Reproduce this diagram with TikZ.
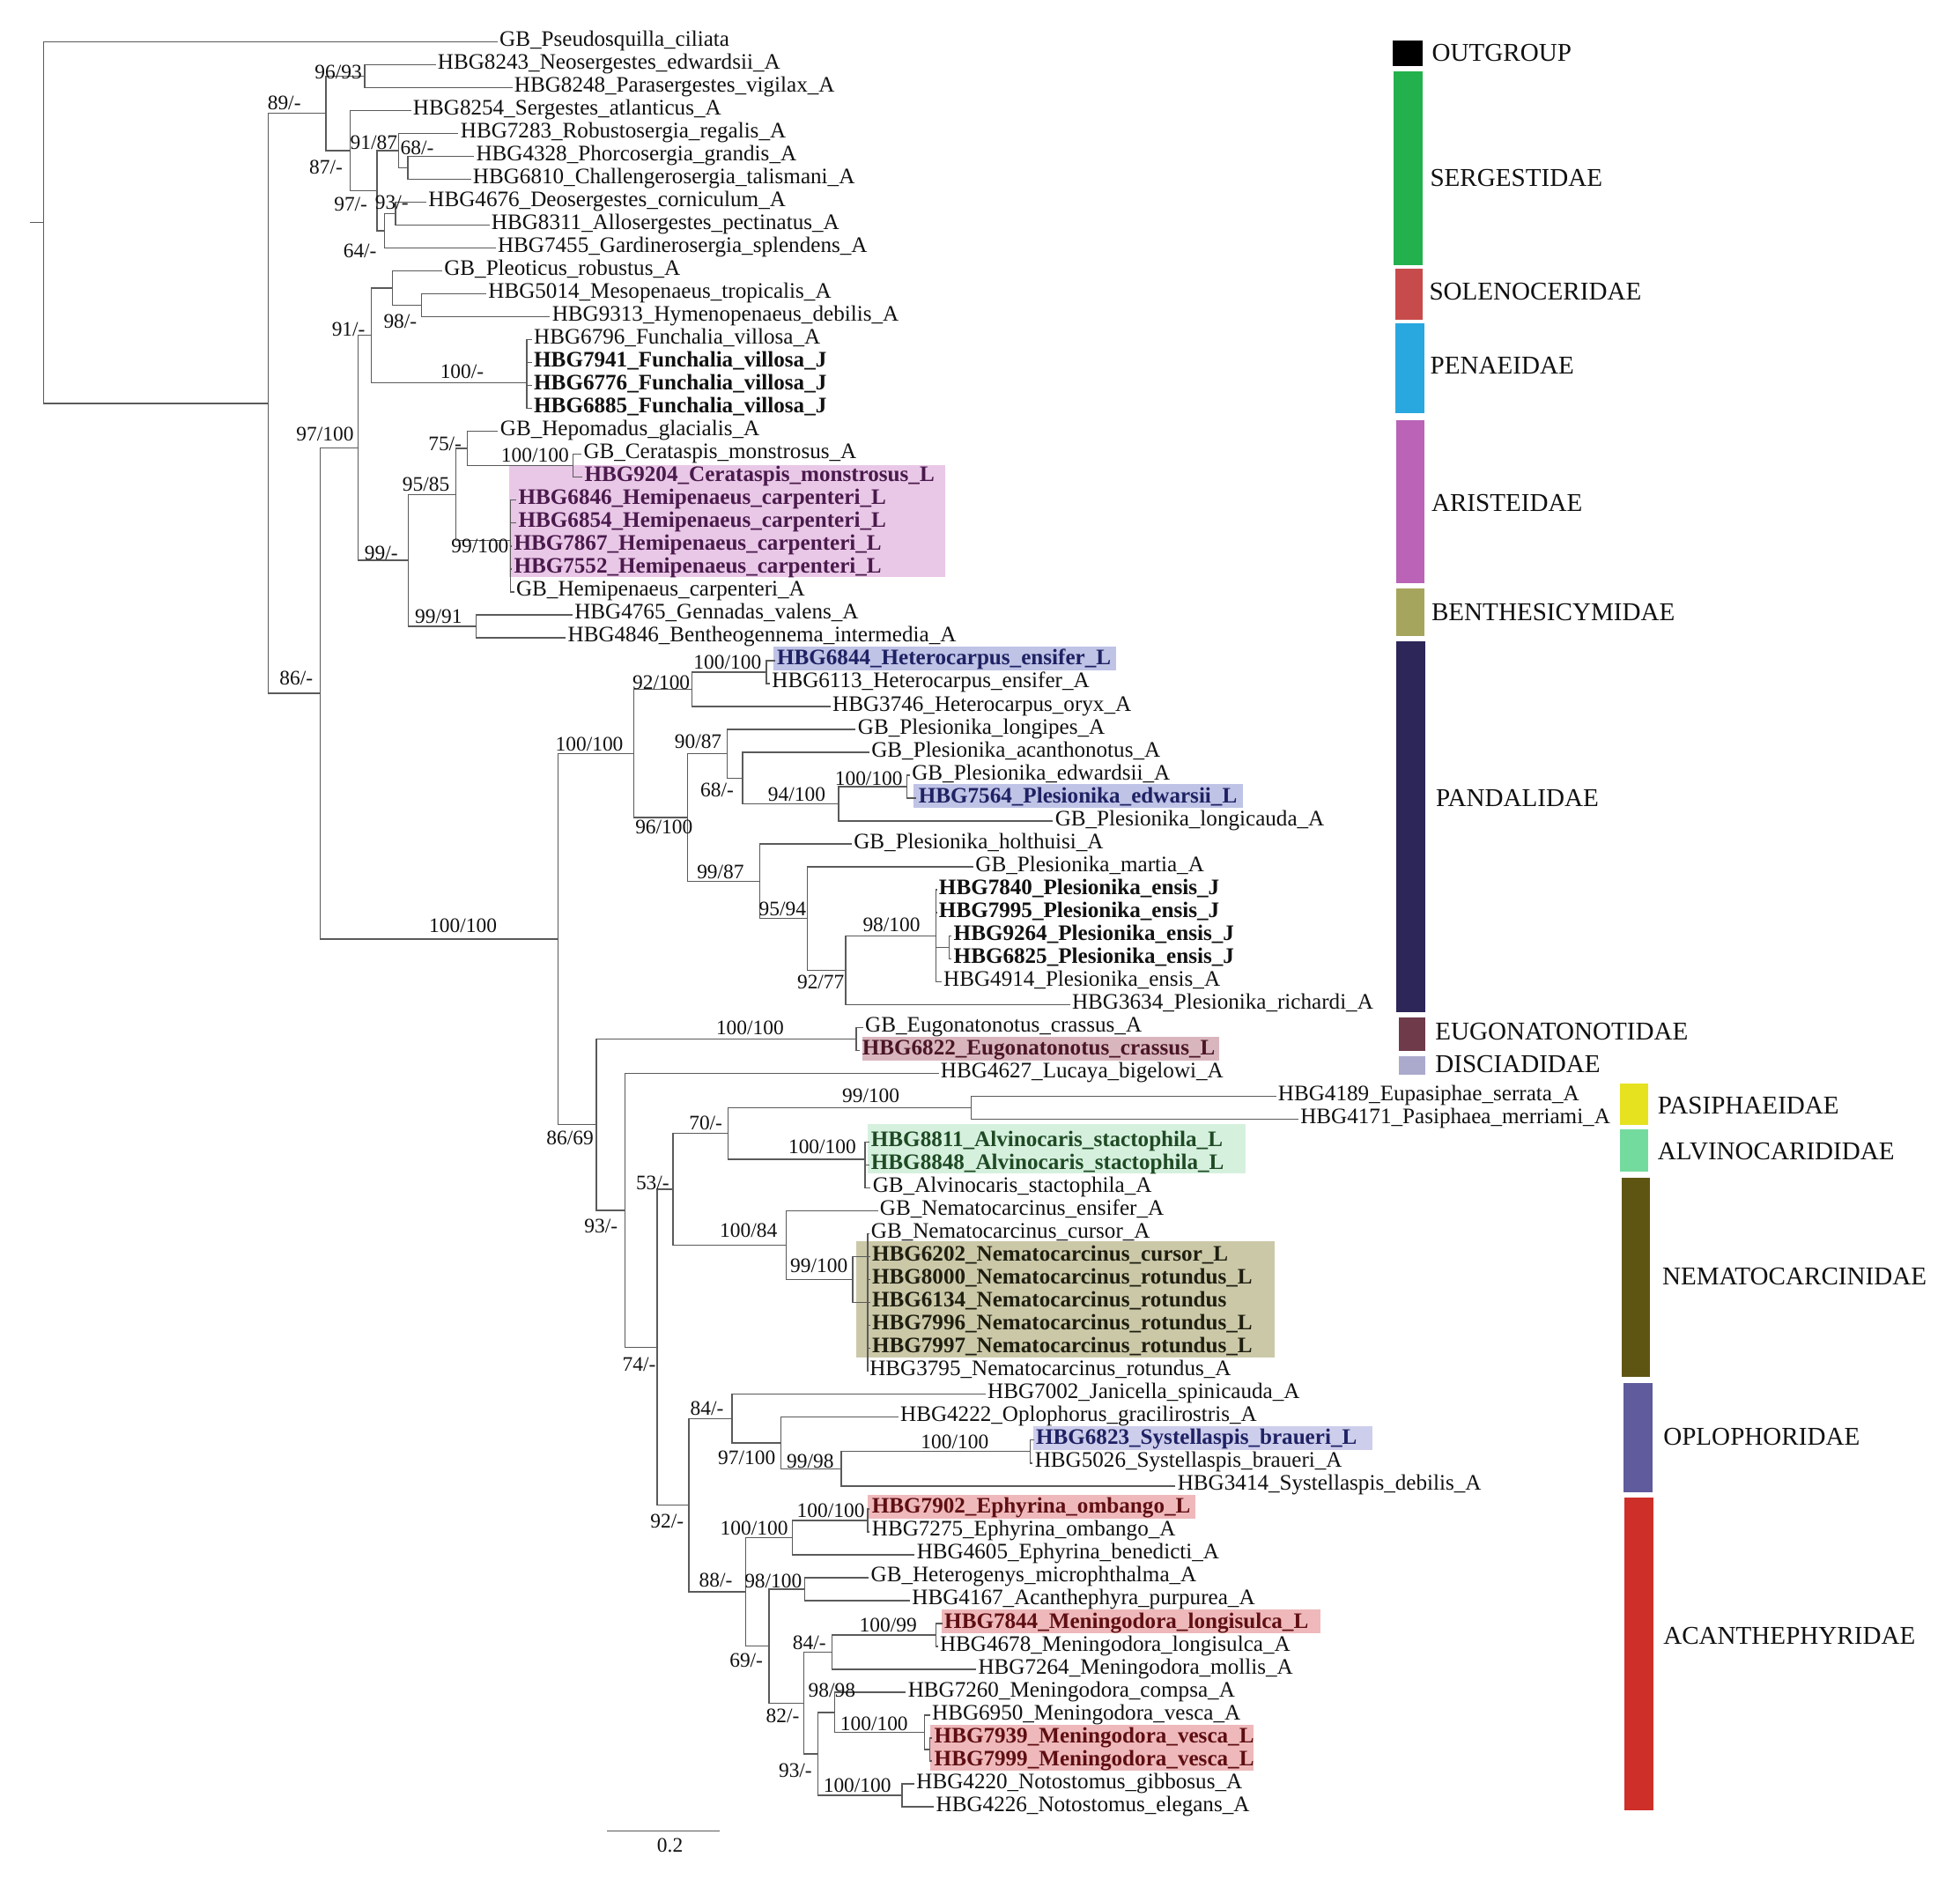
\documentclass[tikz,border=0pt]{standalone}
\usepackage{fontspec}
\setmainfont{Liberation Serif}
\definecolor{treeline}{HTML}{5A5A5A}
\definecolor{txt}{HTML}{111111}
\definecolor{hlPink}{HTML}{E9C8E7}
\definecolor{hlBlue}{HTML}{BFC3E6}
\definecolor{hlEug}{HTML}{D9B6BE}
\definecolor{hlGreen}{HTML}{D5F1DE}
\definecolor{hlKhaki}{HTML}{CBC8A8}
\definecolor{hlLav}{HTML}{CDCDEC}
\definecolor{hlRed}{HTML}{EFB9BB}
\definecolor{txPink}{HTML}{4A1A4C}
\definecolor{txBlue}{HTML}{1E2263}
\definecolor{txEug}{HTML}{4A1626}
\definecolor{txGreen}{HTML}{1F4A24}
\definecolor{txKhaki}{HTML}{1E1E10}
\definecolor{txRed}{HTML}{5E0E12}
\definecolor{cOut}{HTML}{000000}
\definecolor{cSer}{HTML}{22B14C}
\definecolor{cSol}{HTML}{C84B4B}
\definecolor{cPen}{HTML}{29A8DF}
\definecolor{cAri}{HTML}{BA63B7}
\definecolor{cBen}{HTML}{A6A55E}
\definecolor{cPan}{HTML}{2C2659}
\definecolor{cEug}{HTML}{6F3B4B}
\definecolor{cDis}{HTML}{ABAACD}
\definecolor{cPas}{HTML}{E7E21F}
\definecolor{cAlv}{HTML}{74DB9E}
\definecolor{cNem}{HTML}{5F5512}
\definecolor{cOpl}{HTML}{5F5B9D}
\definecolor{cAca}{HTML}{CE2F29}
\newcommand{\tipfont}{\fontsize{17.7pt}{18pt}\selectfont}
\newcommand{\bsfont}{\fontsize{16.5pt}{17pt}\selectfont}
\newcommand{\legfont}{\fontsize{20.5pt}{21pt}\selectfont}
\begin{document}
\begin{tikzpicture}[x=1pt,y=-1pt,
  br/.style={draw=treeline, line width=1pt},
  tip/.style={anchor=west, inner xsep=1.5pt, inner ysep=0pt, xshift=-1.5pt, font=\tipfont, text=txt, text height=11.7pt, text depth=4.6pt},
  tipb/.style={tip, font=\tipfont\bfseries},
  bs/.style={font=\bsfont, inner sep=0pt, text=txt},
  legtxt/.style={anchor=west, inner sep=0pt, font=\legfont, text=txt}]
\useasboundingbox (0,0) rectangle (1568,1503);
\fill[white] (0,0) rectangle (1568,1503);

% highlight boxes
\fill[hlPink] (407.4,372.3) rectangle (756,461.5);
\fill[hlBlue] (619,517.5) rectangle (893,536.5);
\fill[hlBlue] (730.6,627.5) rectangle (994.4,646.5);
\fill[hlEug] (689.6,829.3) rectangle (975,848.3);
\fill[hlGreen] (694.3,899.2) rectangle (996.3,938.4);
\fill[hlKhaki] (684.7,993.2) rectangle (1019.7,1085.8);
\fill[hlLav] (826.3,1141) rectangle (1097.6,1160);
\fill[hlRed] (694.1,1196.1) rectangle (956,1215.1);
\fill[hlRed] (753.2,1287.8) rectangle (1056.6,1306.8);
\fill[hlRed] (744.2,1380) rectangle (1002.7,1416.5);

% internal nodes
\coordinate (rstub) at (23.7,177.99);
\coordinate (nRoot) at (35,177.99);
\coordinate (nIn) at (214.7,322.67);
\coordinate (n89) at (260.6,90.61);
\coordinate (n9693) at (291.7,60.81);
\coordinate (n87) at (280.3,120.42);
\coordinate (n97a) at (301.6,152.51);
\coordinate (n9187) at (318.9,120.42);
\coordinate (n68a) at (326.3,134.17);
\coordinate (n64) at (307.5,184.61);
\coordinate (n93a) at (316.4,170.85);
\coordinate (n86) at (256,554.73);
\coordinate (n97100) at (286.6,358.27);
\coordinate (n91) at (297,268.28);
\coordinate (nP1) at (313.9,230.46);
\coordinate (n98) at (337.3,244.21);
\coordinate (nFun) at (421.5,306.11);
\coordinate (n99a) at (326.8,448.25);
\coordinate (n9585) at (364.5,395.52);
\coordinate (n75) at (374,358.84);
\coordinate (nCer) at (458.5,372.59);
\coordinate (nHem) at (408.5,432.2);
\coordinate (n9991) at (381,500.97);
\coordinate (nBig) at (446.6,751.18);
\coordinate (nPand) at (507,602.71);
\coordinate (n92100) at (553.5,551.41);
\coordinate (nHetE) at (613,537.65);
\coordinate (n96100) at (550,654.0);
\coordinate (n9087) at (581.8,602.99);
\coordinate (n68b) at (594,622.48);
\coordinate (n94100) at (670.8,643.11);
\coordinate (nEdw) at (725.4,629.35);
\coordinate (n9987) at (608,705.0);
\coordinate (n9594) at (646,734.81);
\coordinate (n9277) at (676.4,776.07);
\coordinate (nEns) at (748.6,748.56);
\coordinate (nEns2) at (759.5,757.73);
\coordinate (n8669) at (477,899.65);
\coordinate (nEug) at (685,831.09);
\coordinate (n93b) at (500,968.2);
\coordinate (n74) at (525.7,1077.79);
\coordinate (n53) at (538.5,951.45);
\coordinate (n70) at (582.5,906.75);
\coordinate (nPas) at (777,886.11);
\coordinate (nAlv) at (692,927.38);
\coordinate (n10084) at (629,996.15);
\coordinate (nNem) at (682.3,1023.66);
\coordinate (nNemA) at (694,1042.0);
\coordinate (n92) at (551.2,1204.13);
\coordinate (n84a) at (585.6,1134.85);
\coordinate (n97100b) at (624.8,1154.34);
\coordinate (n9998) at (672.9,1174.97);
\coordinate (nSysB) at (824,1161.21);
\coordinate (n88) at (596.5,1273.41);
\coordinate (nEph) at (633.7,1229.99);
\coordinate (nEphO) at (694,1216.23);
\coordinate (n69) at (615.2,1316.82);
\coordinate (n98100) at (643.6,1271.25);
\coordinate (n82) at (643.1,1362.38);
\coordinate (n84b) at (665.5,1321.69);
\coordinate (nLong) at (748.7,1307.93);
\coordinate (n93c) at (654.3,1403.07);
\coordinate (n9898) at (667.8,1369.83);
\coordinate (nVes) at (739.7,1385.88);
\coordinate (nVesL) at (744,1399.63);
\coordinate (nNot) at (721.7,1436.31);

% tips
\node[tip] (t1) at (399.5,33.30) {GB\_Pseudosquilla\_ciliata};
\node[tip] (t2) at (350,51.64) {HBG8243\_Neosergestes\_edwardsii\_A};
\node[tip] (t3) at (411.3,69.98) {HBG8248\_Parasergestes\_vigilax\_A};
\node[tip] (t4) at (330.3,88.32) {HBG8254\_Sergestes\_atlanticus\_A};
\node[tip] (t5) at (368.3,106.66) {HBG7283\_Robustosergia\_regalis\_A};
\node[tip] (t6) at (380.7,125.00) {HBG4328\_Phorcosergia\_grandis\_A};
\node[tip] (t7) at (378.2,143.34) {HBG6810\_Challengerosergia\_talismani\_A};
\node[tip] (t8) at (342.6,161.68) {HBG4676\_Deosergestes\_corniculum\_A};
\node[tip] (t9) at (393,180.02) {HBG8311\_Allosergestes\_pectinatus\_A};
\node[tip] (t10) at (398,198.36) {HBG7455\_Gardinerosergia\_splendens\_A};
\node[tip] (t11) at (355.2,216.70) {GB\_Pleoticus\_robustus\_A};
\node[tip] (t12) at (390.5,235.04) {HBG5014\_Mesopenaeus\_tropicalis\_A};
\node[tip] (t13) at (441.5,253.38) {HBG9313\_Hymenopenaeus\_debilis\_A};
\node[tip] (t14) at (427,271.72) {HBG6796\_Funchalia\_villosa\_A};
\node[tipb] (t15) at (427,290.06) {HBG7941\_Funchalia\_villosa\_J};
\node[tipb] (t16) at (427,308.40) {HBG6776\_Funchalia\_villosa\_J};
\node[tipb] (t17) at (427,326.74) {HBG6885\_Funchalia\_villosa\_J};
\node[tip] (t18) at (400,345.08) {GB\_Hepomadus\_glacialis\_A};
\node[tip] (t19) at (466.7,363.42) {GB\_Cerataspis\_monstrosus\_A};
\node[tipb,text=txPink] (t20) at (467.4,381.76) {HBG9204\_Cerataspis\_monstrosus\_L};
\node[tipb,text=txPink] (t21) at (414.6,400.10) {HBG6846\_Hemipenaeus\_carpenteri\_L};
\node[tipb,text=txPink] (t22) at (414.6,418.44) {HBG6854\_Hemipenaeus\_carpenteri\_L};
\node[tipb,text=txPink] (t23) at (411,436.78) {HBG7867\_Hemipenaeus\_carpenteri\_L};
\node[tipb,text=txPink] (t24) at (411,455.12) {HBG7552\_Hemipenaeus\_carpenteri\_L};
\node[tip] (t25) at (412.8,473.46) {GB\_Hemipenaeus\_carpenteri\_A};
\node[tip] (t26) at (459.5,491.80) {HBG4765\_Gennadas\_valens\_A};
\node[tip] (t27) at (454.1,510.14) {HBG4846\_Bentheogennema\_intermedia\_A};
\node[tipb,text=txBlue] (t28) at (621.4,528.48) {HBG6844\_Heterocarpus\_ensifer\_L};
\node[tip] (t29) at (617.4,546.82) {HBG6113\_Heterocarpus\_ensifer\_A};
\node[tip] (t30) at (665.9,565.16) {HBG3746\_Heterocarpus\_oryx\_A};
\node[tip] (t31) at (686.1,583.50) {GB\_Plesionika\_longipes\_A};
\node[tip] (t32) at (697,601.84) {GB\_Plesionika\_acanthonotus\_A};
\node[tip] (t33) at (729.4,620.18) {GB\_Plesionika\_edwardsii\_A};
\node[tipb,text=txBlue] (t34) at (734.7,638.52) {HBG7564\_Plesionika\_edwarsii\_L};
\node[tip] (t35) at (843.9,656.86) {GB\_Plesionika\_longicauda\_A};
\node[tip] (t36) at (682.9,675.20) {GB\_Plesionika\_holthuisi\_A};
\node[tip] (t37) at (780.2,693.54) {GB\_Plesionika\_martia\_A};
\node[tipb] (t38) at (751,711.88) {HBG7840\_Plesionika\_ensis\_J};
\node[tipb] (t39) at (751,730.22) {HBG7995\_Plesionika\_ensis\_J};
\node[tipb] (t40) at (762.8,748.56) {HBG9264\_Plesionika\_ensis\_J};
\node[tipb] (t41) at (762.8,766.90) {HBG6825\_Plesionika\_ensis\_J};
\node[tip] (t42) at (754.7,785.24) {HBG4914\_Plesionika\_ensis\_A};
\node[tip] (t43) at (857.5,803.58) {HBG3634\_Plesionika\_richardi\_A};
\node[tip] (t44) at (692,821.92) {GB\_Eugonatonotus\_crassus\_A};
\node[tipb,text=txEug] (t45) at (689.6,840.26) {HBG6822\_Eugonatonotus\_crassus\_L};
\node[tip] (t46) at (752.4,858.60) {HBG4627\_Lucaya\_bigelowi\_A};
\node[tip] (t47) at (1022.3,876.94) {HBG4189\_Eupasiphae\_serrata\_A};
\node[tip] (t48) at (1040.2,895.28) {HBG4171\_Pasiphaea\_merriami\_A};
\node[tipb,text=txGreen] (t49) at (696.7,913.62) {HBG8811\_Alvinocaris\_stactophila\_L};
\node[tipb,text=txGreen] (t50) at (696.7,931.96) {HBG8848\_Alvinocaris\_stactophila\_L};
\node[tip] (t51) at (698,950.30) {GB\_Alvinocaris\_stactophila\_A};
\node[tip] (t52) at (703.8,968.64) {GB\_Nematocarcinus\_ensifer\_A};
\node[tip] (t53) at (696.7,986.98) {GB\_Nematocarcinus\_cursor\_A};
\node[tipb,text=txKhaki] (t54) at (697.5,1005.32) {HBG6202\_Nematocarcinus\_cursor\_L};
\node[tipb,text=txKhaki] (t55) at (697.5,1023.66) {HBG8000\_Nematocarcinus\_rotundus\_L};
\node[tipb,text=txKhaki] (t56) at (697.5,1042.00) {HBG6134\_Nematocarcinus\_rotundus};
\node[tipb,text=txKhaki] (t57) at (697.5,1060.34) {HBG7996\_Nematocarcinus\_rotundus\_L};
\node[tipb,text=txKhaki] (t58) at (697.5,1078.68) {HBG7997\_Nematocarcinus\_rotundus\_L};
\node[tip] (t59) at (695.6,1097.02) {HBG3795\_Nematocarcinus\_rotundus\_A};
\node[tip] (t60) at (789.9,1115.36) {HBG7002\_Janicella\_spinicauda\_A};
\node[tip] (t61) at (720.1,1133.70) {HBG4222\_Oplophorus\_gracilirostris\_A};
\node[tipb,text=txBlue] (t62) at (828.6,1152.04) {HBG6823\_Systellaspis\_braueri\_L};
\node[tip] (t63) at (827.7,1170.38) {HBG5026\_Systellaspis\_braueri\_A};
\node[tip] (t64) at (941.9,1188.72) {HBG3414\_Systellaspis\_debilis\_A};
\node[tipb,text=txRed] (t65) at (697.4,1207.06) {HBG7902\_Ephyrina\_ombango\_L};
\node[tip] (t66) at (697.4,1225.40) {HBG7275\_Ephyrina\_ombango\_A};
\node[tip] (t67) at (733.3,1243.74) {HBG4605\_Ephyrina\_benedicti\_A};
\node[tip] (t68) at (696.5,1262.08) {GB\_Heterogenys\_microphthalma\_A};
\node[tip] (t69) at (729.5,1280.42) {HBG4167\_Acanthephyra\_purpurea\_A};
\node[tipb,text=txRed] (t70) at (755.4,1298.76) {HBG7844\_Meningodora\_longisulca\_L};
\node[tip] (t71) at (751.8,1317.10) {HBG4678\_Meningodora\_longisulca\_A};
\node[tip] (t72) at (782.4,1335.44) {HBG7264\_Meningodora\_mollis\_A};
\node[tip] (t73) at (726.2,1353.78) {HBG7260\_Meningodora\_compsa\_A};
\node[tip] (t74) at (745.5,1372.12) {HBG6950\_Meningodora\_vesca\_A};
\node[tipb,text=txRed] (t75) at (747.3,1390.46) {HBG7939\_Meningodora\_vesca\_L};
\node[tipb,text=txRed] (t76) at (747.3,1408.80) {HBG7999\_Meningodora\_vesca\_L};
\node[tip] (t77) at (733,1427.14) {HBG4220\_Notostomus\_gibbosus\_A};
\node[tip] (t78) at (748.7,1445.48) {HBG4226\_Notostomus\_elegans\_A};

% branches
\draw[br] (rstub) -- (nRoot);
\foreach \p/\c in {nRoot/t1, nRoot/nIn, nIn/n89, nIn/n86, n89/n9693, n89/n87, n9693/t2, n9693/t3, n87/t4, n87/n97a, n97a/n9187, n97a/n64, n9187/t5, n9187/n68a, n68a/t6, n68a/t7, n64/n93a, n64/t10, n93a/t8, n93a/t9,
 n86/n97100, n86/nBig, n97100/n91, n97100/n99a, n91/nP1, n91/nFun, nP1/t11, nP1/n98, n98/t12, n98/t13, nFun/t14, nFun/t15, nFun/t16, nFun/t17, n99a/n9585, n99a/n9991, n9585/n75, n9585/nHem, n75/t18, n75/nCer, nCer/t19, nCer/t20, nHem/t21, nHem/t22, nHem/t23, nHem/t24, nHem/t25, n9991/t26, n9991/t27,
 nBig/nPand, nBig/n8669, nPand/n92100, nPand/n96100, n92100/nHetE, n92100/t30, nHetE/t28, nHetE/t29, n96100/n9087, n96100/n9987, n9087/t31, n9087/n68b, n68b/t32, n68b/n94100, n94100/nEdw, n94100/t35, nEdw/t33, nEdw/t34, n9987/t36, n9987/n9594, n9594/t37, n9594/n9277, n9277/nEns, n9277/t43, nEns/t38, nEns/t39, nEns/nEns2, nEns/t42, nEns2/t40, nEns2/t41,
 n8669/nEug, n8669/n93b, nEug/t44, nEug/t45, n93b/t46, n93b/n74, n74/n53, n74/n92, n53/n70, n53/n10084, n70/nPas, n70/nAlv, nPas/t47, nPas/t48, nAlv/t49, nAlv/t50, nAlv/t51, n10084/t52, n10084/nNem, nNem/t54, nNem/nNemA, nNemA/t53, nNemA/t55, nNemA/t56, nNemA/t57, nNemA/t58, nNemA/t59,
 n92/n84a, n92/n88, n84a/t60, n84a/n97100b, n97100b/t61, n97100b/n9998, n9998/nSysB, n9998/t64, nSysB/t62, nSysB/t63, n88/nEph, n88/n69, nEph/nEphO, nEph/t67, nEphO/t65, nEphO/t66, n69/n98100, n69/n82, n98100/t68, n98100/t69, n82/n84b, n82/n93c, n84b/nLong, n84b/t72, nLong/t70, nLong/t71, n93c/n9898, n93c/nNot, n9898/t73, n9898/nVes, nVes/t74, nVes/nVesL, nVesL/t75, nVesL/t76, nNot/t77, nNot/t78}
  {\draw[br] (\p) |- (\c);}

% support values
\node[bs] (b1) at (270.7,57.6) {96/93};
\node[bs] (b2) at (227.4,82.2) {89/-};
\node[bs] (b3) at (299,113.9) {91/87};
\node[bs] (b4) at (333.7,118.6) {68/-};
\node[bs] (b5) at (260.8,133.9) {87/-};
\node[bs] (b6) at (280.6,163.3) {97/-};
\node[bs] (b7) at (313.4,162.1) {93/-};
\node[bs] (b8) at (288,200.8) {64/-};
\node[bs] (b9) at (278.8,263.5) {91/-};
\node[bs] (b10) at (320.2,257.2) {98/-};
\node[bs] (b11) at (369.6,297.1) {100/-};
\node[bs] (b12) at (260,347.6) {97/100};
\node[bs] (b13) at (356,355) {75/-};
\node[bs] (b14) at (428,364.1) {100/100};
\node[bs] (b15) at (340.8,387.5) {95/85};
\node[bs] (b16) at (305,442.7) {99/-};
\node[bs] (b17) at (384,436.9) {99/100};
\node[bs] (b18) at (350.8,493.3) {99/91};
\node[bs] (b19) at (582,530) {100/100};
\node[bs] (b20) at (237,542.6) {86/-};
\node[bs] (b21) at (529,546.2) {92/100};
\node[bs] (b22) at (471.5,595.5) {100/100};
\node[bs] (b23) at (558.5,593.1) {90/87};
\node[bs] (b24) at (573.7,631.9) {68/-};
\node[bs] (b25) at (637.4,635.4) {94/100};
\node[bs] (b26) at (695,622.5) {100/100};
\node[bs] (b27) at (531.2,661.3) {96/100};
\node[bs] (b28) at (576.4,697.7) {99/87};
\node[bs] (b29) at (626,727.1) {95/94};
\node[bs] (b30) at (713.2,740) {98/100};
\node[bs] (b31) at (370.4,740.3) {100/100};
\node[bs] (b32) at (656.6,785.8) {92/77};
\node[bs] (b33) at (600,822.2) {100/100};
\node[bs] (b34) at (696.7,876.2) {99/100};
\node[bs] (b35) at (564.6,898.5) {70/-};
\node[bs] (b36) at (456,910.2) {86/69};
\node[bs] (b37) at (657.8,917.3) {100/100};
\node[bs] (b38) at (522.1,946.6) {53/-};
\node[bs] (b39) at (480.8,980.7) {93/-};
\node[bs] (b40) at (598.8,984.2) {100/84};
\node[bs] (b41) at (655.2,1012.5) {99/100};
\node[bs] (b42) at (511.3,1091.2) {74/-};
\node[bs] (b43) at (565.6,1126.4) {84/-};
\node[bs] (b44) at (763.8,1153.4) {100/100};
\node[bs] (b45) at (597.4,1166.4) {97/100};
\node[bs] (b46) at (648.2,1168.7) {99/98};
\node[bs] (b47) at (533.7,1216.9) {92/-};
\node[bs] (b48) at (664.6,1208.6) {100/100};
\node[bs] (b49) at (603.3,1222.7) {100/100};
\node[bs] (b50) at (572.6,1263.8) {88/-};
\node[bs] (b51) at (618.6,1265) {98/100};
\node[bs] (b52) at (710.5,1300.2) {100/99};
\node[bs] (b53) at (647.5,1314.3) {84/-};
\node[bs] (b54) at (597,1328.4) {69/-};
\node[bs] (b55) at (665.5,1351.9) {98/98};
\node[bs] (b56) at (626.2,1373) {82/-};
\node[bs] (b57) at (699.3,1378.9) {100/100};
\node[bs] (b58) at (636.3,1416.5) {93/-};
\node[bs] (b59) at (685.8,1428.2) {100/100};

% scale bar
\coordinate (sbL) at (485.7,1464.7);
\coordinate (sbR) at (575.6,1464.7);
\draw[br] (sbL) -- (sbR);
\node[bs] (sbT) at (536,1476.5) {0.2};

% legend
\fill[cOut] (1114.2,32.3) rectangle (1138.4,52.8);
\fill[cSer] (1114.5,57.2) rectangle (1138.4,211.9);
\fill[cSol] (1116,214.7) rectangle (1138.4,255.6);
\fill[cPen] (1116.2,258.4) rectangle (1139.2,330.3);
\fill[cAri] (1116.8,335.8) rectangle (1139.2,466.3);
\fill[cBen] (1116.8,470.7) rectangle (1139.2,508.8);
\fill[cPan] (1117.3,513.2) rectangle (1140.5,810);
\fill[cEug] (1119,813.9) rectangle (1140.5,840.4);
\fill[cDis] (1119,844.8) rectangle (1140.5,859.7);
\fill[cPas] (1296.2,866.6) rectangle (1318.7,900.1);
\fill[cAlv] (1296.2,903.5) rectangle (1318.7,937);
\fill[cNem] (1297.7,942.1) rectangle (1320.2,1101.4);
\fill[cOpl] (1298.6,1106.4) rectangle (1321.7,1193.6);
\fill[cAca] (1299.2,1197.8) rectangle (1322.8,1448);
\node[legtxt] (L1) at (1145.4,42.5) {OUTGROUP};
\node[legtxt] (L2) at (1143.9,142.4) {SERGESTIDAE};
\node[legtxt] (L3) at (1143.2,233.5) {SOLENOCERIDAE};
\node[legtxt] (L4) at (1144,292.7) {PENAEIDAE};
\node[legtxt] (L5) at (1145,402.7) {ARISTEIDAE};
\node[legtxt] (L6) at (1145,489.6) {BENTHESICYMIDAE};
\node[legtxt] (L7) at (1148.5,638.7) {PANDALIDAE};
\node[legtxt] (L8) at (1148,825.5) {EUGONATONOTIDAE};
\node[legtxt] (L9) at (1148,851.4) {DISCIADIDAE};
\node[legtxt] (L10) at (1326,884.2) {PASIPHAEIDAE};
\node[legtxt] (L11) at (1326,921.2) {ALVINOCARIDIDAE};
\node[legtxt] (L12) at (1329.6,1020.9) {NEMATOCARCINIDAE};
\node[legtxt] (L13) at (1330.5,1149.6) {OPLOPHORIDAE};
\node[legtxt] (L14) at (1330.5,1308.9) {ACANTHEPHYRIDAE};
\end{tikzpicture}
\end{document}
